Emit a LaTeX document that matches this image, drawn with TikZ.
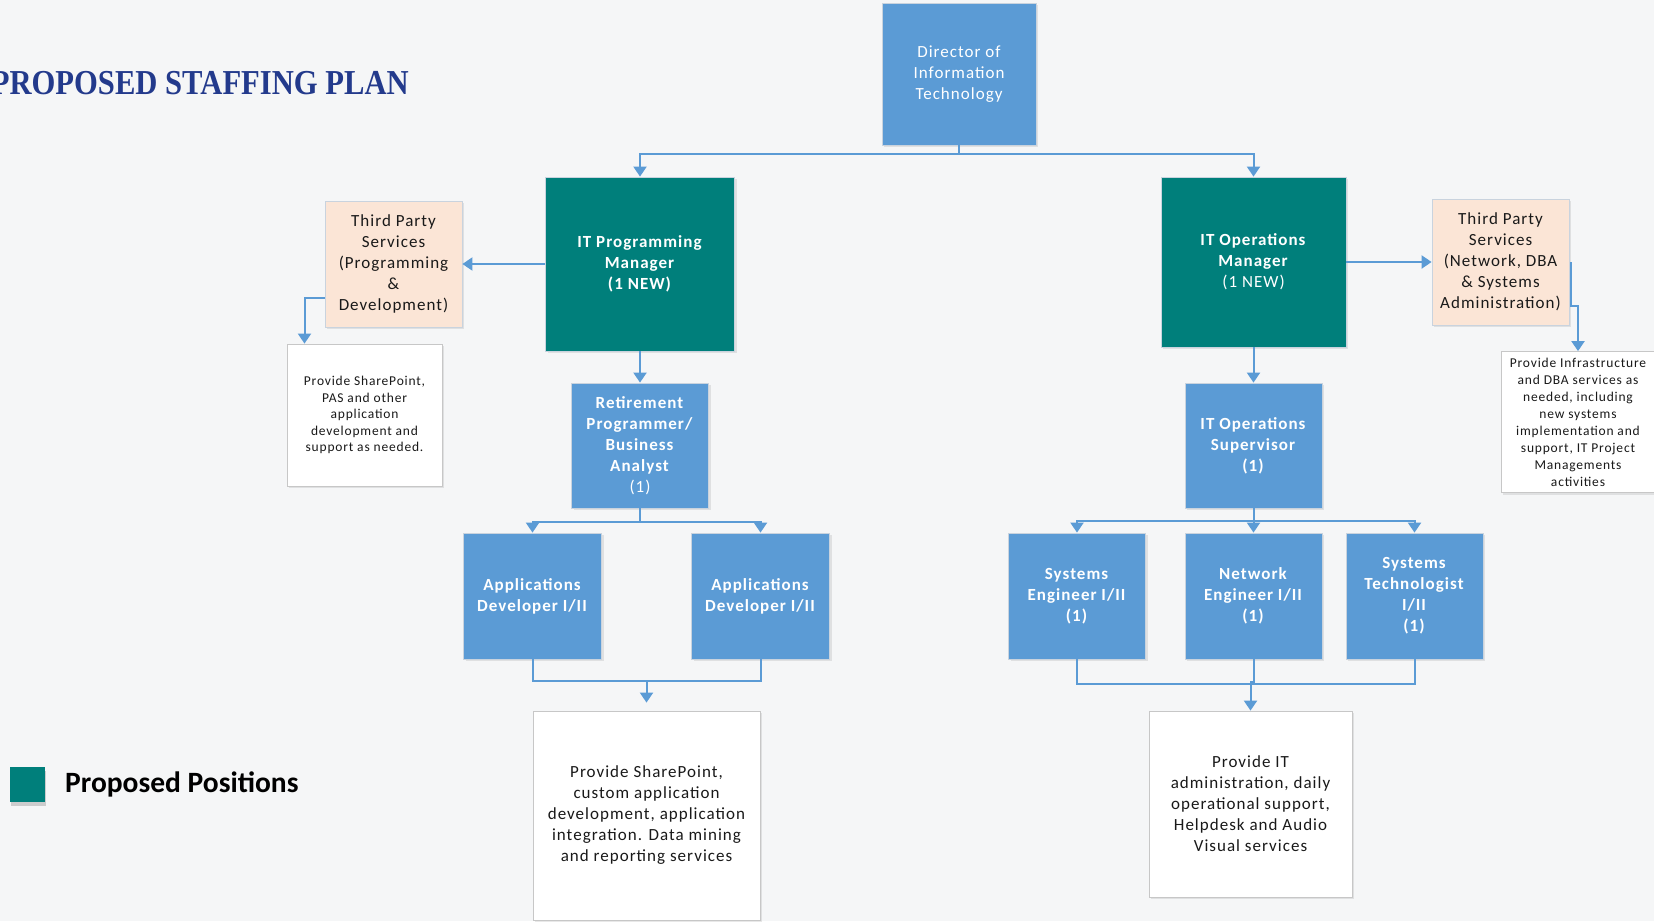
\documentclass[tikz,border=0pt]{standalone}
\usepackage{fontspec}
\usepackage{graphicx}
\setmainfont{Carlito}
\newfontfamily\boxfont[LetterSpace=6]{Carlito}
\newfontfamily\legendfont{Carlito}
\newfontfamily\titlefont{Liberation Serif}
\usetikzlibrary{arrows.meta,calc,shadows}

\definecolor{posblue}{HTML}{5B9BD5}
\definecolor{posteal}{HTML}{007F7B}
\definecolor{vendorpeach}{HTML}{FBE5D6}
\definecolor{linkblue}{HTML}{5B9BD5}
\definecolor{titleblue}{HTML}{233A8C}
\definecolor{paper}{HTML}{F5F6F7}
\definecolor{edgegray}{HTML}{C9D3DE}

\begin{document}
\begin{tikzpicture}[x=1pt,y=-1pt,
  every node/.style={inner sep=0pt, align=center},
  unit/.style={rectangle, draw=edgegray, line width=0.8pt,
    drop shadow={shadow xshift=2pt,shadow yshift=-2pt,opacity=0.18}},
  rolebox/.style={unit, fill=posblue, text=white,
    font=\boxfont\fontsize{17}{21}\selectfont},
  newrole/.style={rolebox, fill=posteal},
  vendorbox/.style={unit, fill=vendorpeach, text=black!90,
    font=\boxfont\fontsize{17}{21}\selectfont},
  notebox/.style={unit, fill=white, draw=black!22, text=black!90,
    font=\boxfont\fontsize{17}{21}\selectfont},
  notesmall/.style={notebox, font=\boxfont\fontsize{13.5}{16.5}\selectfont},
  link/.style={draw=linkblue, line width=2pt},
  linkarrow/.style={link, -{Triangle[width=13pt,length=10pt]}}
]
% page and background
\useasboundingbox (0,0) rectangle (1654,921);
\fill[paper] (0,0) rectangle (1654,921);

% heading
\node[anchor=east, text=titleblue,
      font=\titlefont\bfseries\fontsize{35}{40}\selectfont] (title) at (409,83)
  {\scalebox{0.875}[1]{PROPOSED STAFFING PLAN}};

% top of the department
\node[rolebox, minimum width=154, minimum height=142] (dir) at (959,74)
  {Director of\\Information\\Technology};

% managers
\node[newrole, minimum width=189, minimum height=174] (pm) at (640,264)
  {\textbf{IT Programming}\\\textbf{Manager}\\\textbf{(1 NEW)}};
\node[newrole, minimum width=185, minimum height=170] (om) at (1253.5,262)
  {\textbf{IT Operations}\\\textbf{Manager}\\(1 NEW)};

% third party services
\node[vendorbox, minimum width=137, minimum height=126] (tpl) at (393.5,264)
  {Third Party\\Services\\(Programming\\\&\\Development)};
\node[vendorbox, minimum width=137, minimum height=126] (tpr) at (1500.5,262)
  {Third Party\\Services\\(Network, DBA\\\& Systems\\Administration)};

\node[notesmall, minimum width=155, minimum height=142] (wl) at (364.5,415)
  {Provide SharePoint,\\PAS and other\\application\\development and\\support as needed.};
\node[notesmall, minimum width=154, minimum height=141,
      font=\boxfont\fontsize{13.5}{17}\selectfont] (wr) at (1578,422)
  {Provide Infrastructure\\and DBA services as\\needed, including\\new systems\\implementation and\\support, IT Project\\Managements\\activities};

% second level
\node[rolebox, minimum width=137, minimum height=125] (ret) at (640,445.5)
  {\textbf{Retirement}\\\textbf{Programmer/}\\\textbf{Business}\\\textbf{Analyst}\\(1)};
\node[rolebox, minimum width=137, minimum height=125] (sup) at (1253.5,445.5)
  {\textbf{IT Operations}\\\textbf{Supervisor}\\\textbf{(1)}};

% staff positions
\node[rolebox, minimum width=138, minimum height=126] (ad1) at (532.5,596)
  {\textbf{Applications}\\\textbf{Developer I/II}};
\node[rolebox, minimum width=138, minimum height=126] (ad2) at (760.5,596)
  {\textbf{Applications}\\\textbf{Developer I/II}};
\node[rolebox, minimum width=137, minimum height=126] (se) at (1077,596)
  {\textbf{Systems}\\\textbf{Engineer I/II}\\\textbf{(1)}};
\node[rolebox, minimum width=137, minimum height=126] (ne) at (1253.5,596)
  {\textbf{Network}\\\textbf{Engineer I/II}\\\textbf{(1)}};
\node[rolebox, minimum width=137, minimum height=126] (st) at (1414.5,596)
  {\textbf{Systems}\\\textbf{Technologist}\\\textbf{I/II}\\\textbf{(1)}};

% services provided
\node[notebox, minimum width=227, minimum height=209] (bl) at (646.5,815.5)
  {Provide SharePoint,\\custom application\\development, application\\integration. Data mining\\and reporting services};
\node[notebox, minimum width=203, minimum height=186] (br) at (1250.5,804)
  {Provide IT\\administration, daily\\operational support,\\Helpdesk and Audio\\Visual services};

% legend
\node[fill=posteal, minimum width=35, minimum height=35,
      drop shadow={shadow xshift=1pt,shadow yshift=-4pt,opacity=0.35}] (legkey) at (27.5,784.5) {};
\node[anchor=west, text=black, font=\legendfont\bfseries\fontsize{29.5}{33}\selectfont]
  (legtext) at (65,784) {Proposed Positions};

% reporting lines
\draw[linkarrow] (dir.south) -- ++(0,9) -| (pm.north);
\draw[linkarrow] (dir.south) -- ++(0,9) -| (om.north);
\draw[linkarrow] (pm.west) -- (tpl.east);
\draw[linkarrow] (om.east) -- (tpr.west);
\draw[linkarrow] ($(tpl.west)+(0,34)$) -| ($(wl.north)+(-60,0)$);
\draw[linkarrow] ($(tpr.east)+(2,0)$) |- ($(wr.north)+(0,-45)$) -- (wr.north);
\draw[linkarrow] (pm.south) -- (ret.north);
\draw[linkarrow] (om.south) -- (sup.north);
\draw[linkarrow] (ret.south) -- ++(0,13.5) -| (ad1.north);
\draw[linkarrow] (ret.south) -- ++(0,13.5) -| (ad2.north);
\draw[linkarrow] (sup.south) -- ++(0,13) -| (se.north);
\draw[linkarrow] (sup.south) -- (ne.north);
\draw[linkarrow] (sup.south) -- ++(0,13) -| (st.north);

% work flowing to services
\draw[link] (ad1.south) -- ++(0,22) -| (ad2.south);
\draw[linkarrow, shorten >=8pt] ($(bl.north)+(0,-30)$) -- (bl.north);
\draw[link] (se.south) -- ++(0,25) -| (st.south);
\draw[linkarrow] (ne.south) -- ++(0,23) -| (br.north);
\end{tikzpicture}
\end{document}
